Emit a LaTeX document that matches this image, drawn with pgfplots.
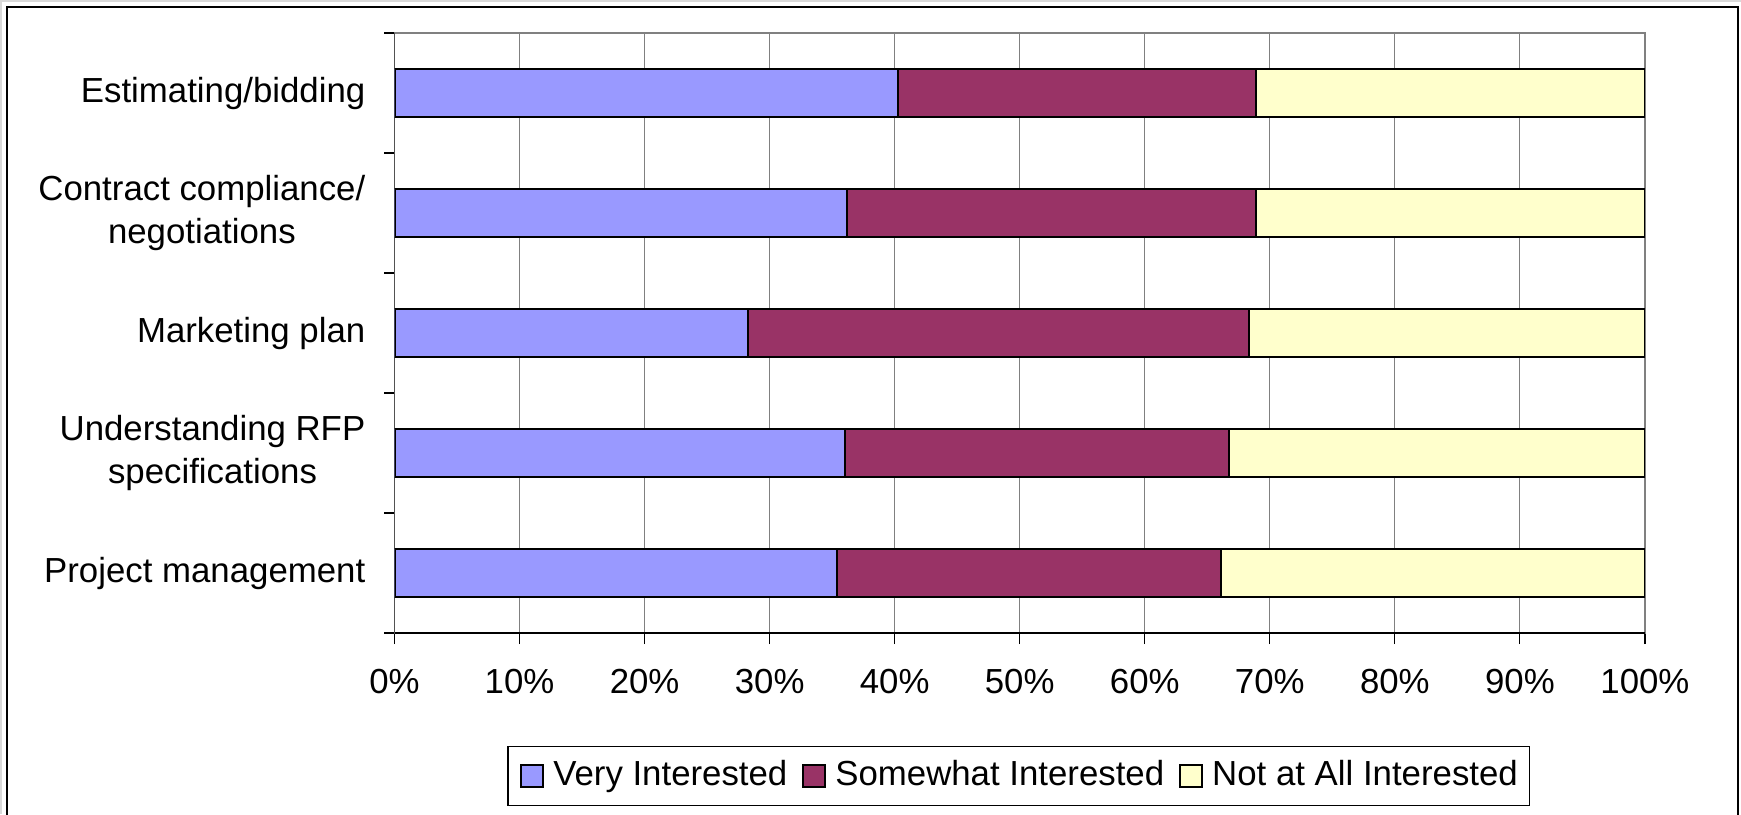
\documentclass[border=0pt]{standalone}
\usepackage{fontspec}
\setmainfont{Liberation Sans}
\usepackage{pgfplots}
\pgfplotsset{compat=1.18}
\definecolor{vi}{HTML}{9999FF}
\definecolor{si}{HTML}{993366}
\definecolor{ni}{HTML}{FFFFCC}
\begin{document}
\fontsize{8.7}{10.6}\selectfont
\begin{tikzpicture}
\useasboundingbox (0,0) rectangle (435.25pt,203.5pt);
\draw[gray!30, line width=0.4pt] (0.2pt,0pt) -- (0.2pt,203.3pt) -- (435.25pt,203.3pt);
\draw[black, line width=0.55pt] (1.75pt,-5pt) -- (1.75pt,201.75pt) -- (434.5pt,201.75pt) -- (434.5pt,-5pt);
\begin{axis}[
  at={(98.625pt,45.25pt)}, anchor=south west,
  width=312.6pt, height=150pt, scale only axis,
  xbar stacked, bar width=0.4, bar shift=0pt,
  xmin=0, xmax=100, ymin=0.5, ymax=5.5, enlargelimits=false,
  xtick={0,10,...,100},
  xticklabel={\pgfmathprintnumber{\tick}\%},
  /pgf/number format/assume math mode=true,
  ytick={1,2,3,4,5},
  yticklabels={Project management,{Understanding RFP\\specifications},Marketing plan,{Contract compliance/\\negotiations},Estimating/bidding},
  yticklabel style={align=center, xshift=-1.45pt},
  xticklabel style={yshift=-3.1pt},
  minor ytick={0.5,1.5,...,5.5},
  xtick pos=bottom, ytick pos=left,
  major y tick style={draw=none},
  minor y tick style={draw=black, line width=0.3pt},
  tick align=outside, major tick length=2.75pt, minor tick length=2.6pt,
  major x tick style={draw=black, line width=0.3pt},
  xmajorgrids, ymajorgrids=false,
  grid style={draw=gray, line width=0.3pt},
  axis line style={draw=gray, line width=0.35pt},
  legend columns=-1,
  legend style={at={(0.4994,-0.2383)}, anchor=center, draw=black, line width=0.3pt,
    inner xsep=3pt, inner ysep=3.5pt, nodes={inner sep=0pt},
    /tikz/every odd column/.append style={column sep=2.3pt},
    /tikz/every even column/.append style={column sep=3.7pt}},
  mylegend/.style={legend image code/.code={\draw[##1, draw=black, line width=0.5pt] (0pt,-2.85pt) rectangle (5.5pt,2.85pt);}},
]
\addplot[fill=vi, draw=black, line width=0.5pt, mylegend] coordinates {(35.4,1) (36.0,2) (28.3,3) (36.2,4) (40.3,5)};
\addplot[fill=si, draw=black, line width=0.5pt, mylegend] coordinates {(30.7,1) (30.7,2) (40.0,3) (32.7,4) (28.6,5)};
\addplot[fill=ni, draw=black, line width=0.5pt, mylegend] coordinates {(33.9,1) (33.3,2) (31.7,3) (31.1,4) (31.1,5)};
\legend{Very Interested, Somewhat Interested, Not at All Interested}
\draw[black, line width=0.4pt] (rel axis cs:0,1) -- (rel axis cs:0,0) -- (rel axis cs:1,0);
\end{axis}
\end{tikzpicture}
\end{document}
